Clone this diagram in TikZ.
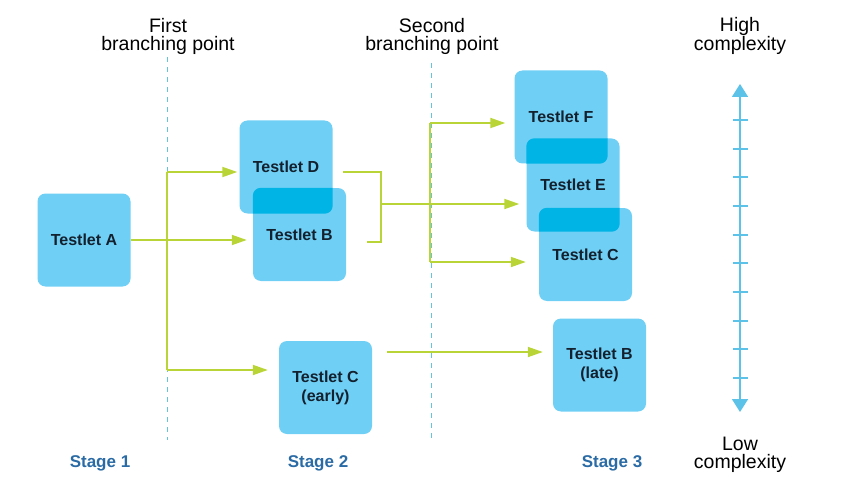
\documentclass[tikz,border=0pt]{standalone}
\usepackage{fontspec}
\setmainfont{Liberation Sans}
\usetikzlibrary{arrows.meta}
\definecolor{boxblue}{HTML}{6FCFF5}
\definecolor{ovblue}{HTML}{00B4E6}
\definecolor{txtdark}{HTML}{13202E}
\definecolor{stageblue}{HTML}{2B6BA5}
\definecolor{lgreen}{HTML}{B9D436}
\definecolor{axisblue}{HTML}{5CC2E8}
\definecolor{dashblue}{HTML}{62C4DE}
\tikzset{
  testlet/.style={fill=boxblue, rounded corners=8pt, minimum width=93pt, minimum height=93pt,
    inner sep=0pt, align=center, font=\fontsize{16}{19}\selectfont\bfseries, text=txtdark},
  conn/.style={draw=lgreen, line width=1.8pt},
  arr/.style={conn, -{Triangle[length=15pt,width=10pt]}},
  hdr/.style={align=center, font=\fontsize{19.5}{18}\selectfont, text=black},
  stage/.style={font=\fontsize{17}{19}\selectfont\bfseries, text=stageblue},
  divider/.style={draw=dashblue, line width=1pt, dash pattern=on 5pt off 5pt},
  axis/.style={draw=axisblue, line width=1.8pt},
  tick/.style={draw=axisblue, line width=1.6pt}
}
\begin{document}
\begin{tikzpicture}[x=1pt,y=-1pt]
\useasboundingbox (0,0) rectangle (845,489);
% dividers
\coordinate (d1t) at (167,57); \coordinate (d1b) at (167,440);
\coordinate (d2t) at (431,63); \coordinate (d2b) at (431,440);
\draw[divider] (d1t) -- (d1b);
\draw[divider] (d2t) -- (d2b);
% headers
\node[hdr] (h1) at (168,36) {First\\branching point};
\node[hdr] (h2) at (432,36) {Second\\branching point};
\node[hdr] (h3) at (740,36) {High\\complexity};
\node[hdr] (h4) at (740,455) {Low\\complexity};
\node[stage] (s1) at (100,463) {Stage 1};
\node[stage] (s2) at (318,463) {Stage 2};
\node[stage] (s3) at (612,463) {Stage 3};
% boxes
\node[testlet] (A) at (84,240) {Testlet A};
\node[testlet] (D) at (286,167) {Testlet D};
\node[testlet] (B) at (299.5,234.5) {Testlet B};
\node[testlet] (Ce) at (325.5,387.5) {Testlet C\\(early)};
\node[testlet] (F) at (561,117) {Testlet F};
\node[testlet] (E) at (573,185) {Testlet E};
\node[testlet] (C) at (585.5,254.5) {Testlet C};
\node[testlet] (Bl) at (599.5,365) {Testlet B\\(late)};
% overlaps
\begin{scope}
\clip[rounded corners=8pt] (D.south west) rectangle (D.north east);
\fill[ovblue, rounded corners=8pt] (B.south west) rectangle (B.north east);
\end{scope}
\begin{scope}
\clip[rounded corners=8pt] (F.south west) rectangle (F.north east);
\fill[ovblue, rounded corners=8pt] (E.south west) rectangle (E.north east);
\end{scope}
\begin{scope}
\clip[rounded corners=8pt] (E.south west) rectangle (E.north east);
\fill[ovblue, rounded corners=8pt] (C.south west) rectangle (C.north east);
\end{scope}
% connectors stage 1 -> 2
\coordinate (j1t) at (167,172);
\coordinate (j1b) at (167,370);
\draw[conn] (j1t) -- (j1b);
\draw[arr] (A.east) -- ([xshift=-6pt]B.west |- A.east);
\draw[arr] (j1t) -- ([xshift=-2pt]D.west |- j1t);
\draw[arr] (j1b) -- ([xshift=-11pt]Ce.west |- j1b);
% bracket
\coordinate (bk1) at (343,172);
\coordinate (bk2) at (381,172);
\coordinate (bk3) at (381,242);
\coordinate (bk4) at (367,242);
\coordinate (bkm) at (381,204);
\draw[conn] (bk1) -- (bk2) -- (bk3) -- (bk4);
\draw[arr] (bkm) -- ([xshift=-7pt]E.west |- bkm);
% second branching
\coordinate (j2t) at (430,123);
\coordinate (j2b) at (430,262);
\draw[conn] (j2t) -- (j2b);
\draw[arr] (j2t) -- ([xshift=-9pt]F.west |- j2t);
\draw[arr] (j2b) -- ([xshift=-13pt]C.west |- j2b);
% C early -> B late
\coordinate (ce1) at (387,352);
\draw[arr] (ce1) -- ([xshift=-10pt]Bl.west |- ce1);
% complexity axis
\coordinate (ax1) at (740,84);
\coordinate (ax2) at (740,412);
\draw[axis, {Triangle[length=13pt,width=16pt]}-{Triangle[length=13pt,width=16pt]}] (ax1) -- (ax2);
\foreach \ty in {120,149,177,206,235,263,292,321,349,378} {
  \draw[tick] (733,\ty) -- (748,\ty);
}
\end{tikzpicture}
\end{document}
